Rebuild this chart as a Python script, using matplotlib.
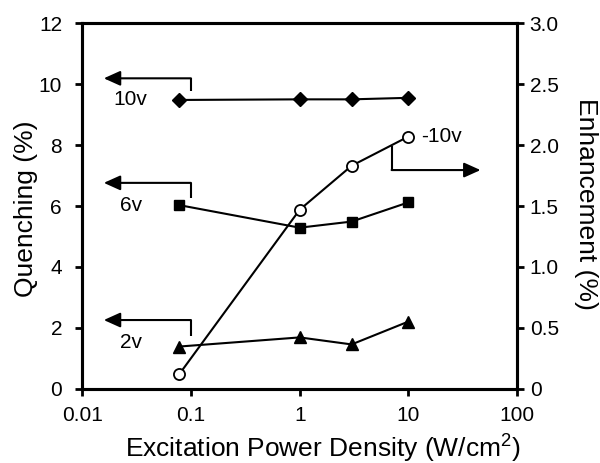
import matplotlib
matplotlib.use("Agg")
import matplotlib.pyplot as plt
from matplotlib.ticker import FixedLocator, FixedFormatter, NullLocator

plt.rcParams['font.family'] = ['Liberation Sans', 'DejaVu Sans']
plt.rcParams['mathtext.fontset'] = 'custom'
plt.rcParams['mathtext.rm'] = 'Liberation Sans'

power = [0.078, 1, 3, 10]
q_10v = [9.48, 9.5, 9.5, 9.55]
q_6v = [6.03, 5.29, 5.49, 6.12]
q_2v = [1.39, 1.69, 1.46, 2.21]
e_m10v = [0.12, 1.47, 1.83, 2.07]

x_ticks = [0.01, 0.1, 1, 10, 100]
x_labels = ['0.01', '0.1', '1', '10', '100']
q_ticks = [0, 2, 4, 6, 8, 10, 12]
e_ticks = [0, 0.5, 1.0, 1.5, 2.0, 2.5, 3.0]
e_labels = ['0', '0.5', '1.0', '1.5', '2.0', '2.5', '3.0']

fig = plt.figure(figsize=(6, 4.63), dpi=100)
ax = fig.add_axes([0.137, 0.160, 0.725, 0.790])
ax2 = ax.twinx()

lw = 1.5
ax.plot(power, q_10v, color='black', lw=lw, marker='D', ms=7.5, mfc='black', mec='black')
ax.plot(power, q_6v, color='black', lw=lw, marker='s', ms=7.5, mfc='black', mec='black')
ax.plot(power, q_2v, color='black', lw=lw, marker='^', ms=9, mfc='black', mec='black')
ax2.plot(power, e_m10v, color='black', lw=lw, marker='o', ms=8, mfc='white', mec='black', mew=1.3)

ax.set_xscale('log')
ax.set_xlim(0.01, 100)
ax.set_ylim(0, 12)
ax2.set_ylim(0, 3.0)

ax.xaxis.set_major_locator(FixedLocator(x_ticks))
ax.xaxis.set_major_formatter(FixedFormatter(x_labels))
ax.xaxis.set_minor_locator(NullLocator())
ax.yaxis.set_major_locator(FixedLocator(q_ticks))
ax.yaxis.set_major_formatter(FixedFormatter([str(v) for v in q_ticks]))
ax2.yaxis.set_major_locator(FixedLocator(e_ticks))
ax2.yaxis.set_major_formatter(FixedFormatter(e_labels))
ax2.yaxis.set_minor_locator(NullLocator())

for a in (ax, ax2):
    for s in a.spines.values():
        s.set_linewidth(2.2)
    a.tick_params(direction='out', length=5, width=2, labelsize=15)
ax.tick_params(axis='x', pad=7)
ax.tick_params(axis='y', pad=9.5)
ax2.tick_params(axis='y', pad=4)

ax.set_xlabel('Excitation Power Density (W/cm$^{2}$)', fontsize=19)
ax.xaxis.label.set_va('baseline')
ax.xaxis.set_label_coords(0.554, -0.184)

ax.set_ylabel('Quenching (%)', fontsize=19)
ax.yaxis.label.set_va('center')
ax.yaxis.set_label_coords(-0.129, 0.492)

ax2.set_ylabel('Enhancement (%)', fontsize=19, rotation=270)
ax2.yaxis.label.set_va('center')
ax2.yaxis.label.set_ha('center')
ax2.yaxis.set_label_coords(1.158, 0.505)


def bracket_arrow(a, xc, y_vert_end, y_arrow, x_tip):
    a.plot([xc, xc], [y_vert_end, y_arrow], color='black', lw=lw, solid_capstyle='butt')
    a.annotate('', xy=(x_tip, y_arrow), xytext=(xc, y_arrow),
               arrowprops=dict(arrowstyle='-|>,head_length=1.0,head_width=0.45',
                               color='black', lw=lw, shrinkA=0, shrinkB=0))


bracket_arrow(ax, 0.1, 9.76, 10.19, 0.0158)
bracket_arrow(ax, 0.1, 6.26, 6.76, 0.0158)
bracket_arrow(ax, 0.1, 1.74, 2.26, 0.0158)
bracket_arrow(ax2, 7.0, 1.99, 1.795, 46)

ax.text(0.0195, 9.5, '10v', fontsize=15, va='center', ha='left')
ax.text(0.0225, 6.03, '6v', fontsize=15, va='center', ha='left')
ax.text(0.0225, 1.51, '2v', fontsize=15, va='center', ha='left')
ax2.text(13.2, 2.07, '-10v', fontsize=15, va='center', ha='left')

fig.savefig('out.png', dpi=100)
